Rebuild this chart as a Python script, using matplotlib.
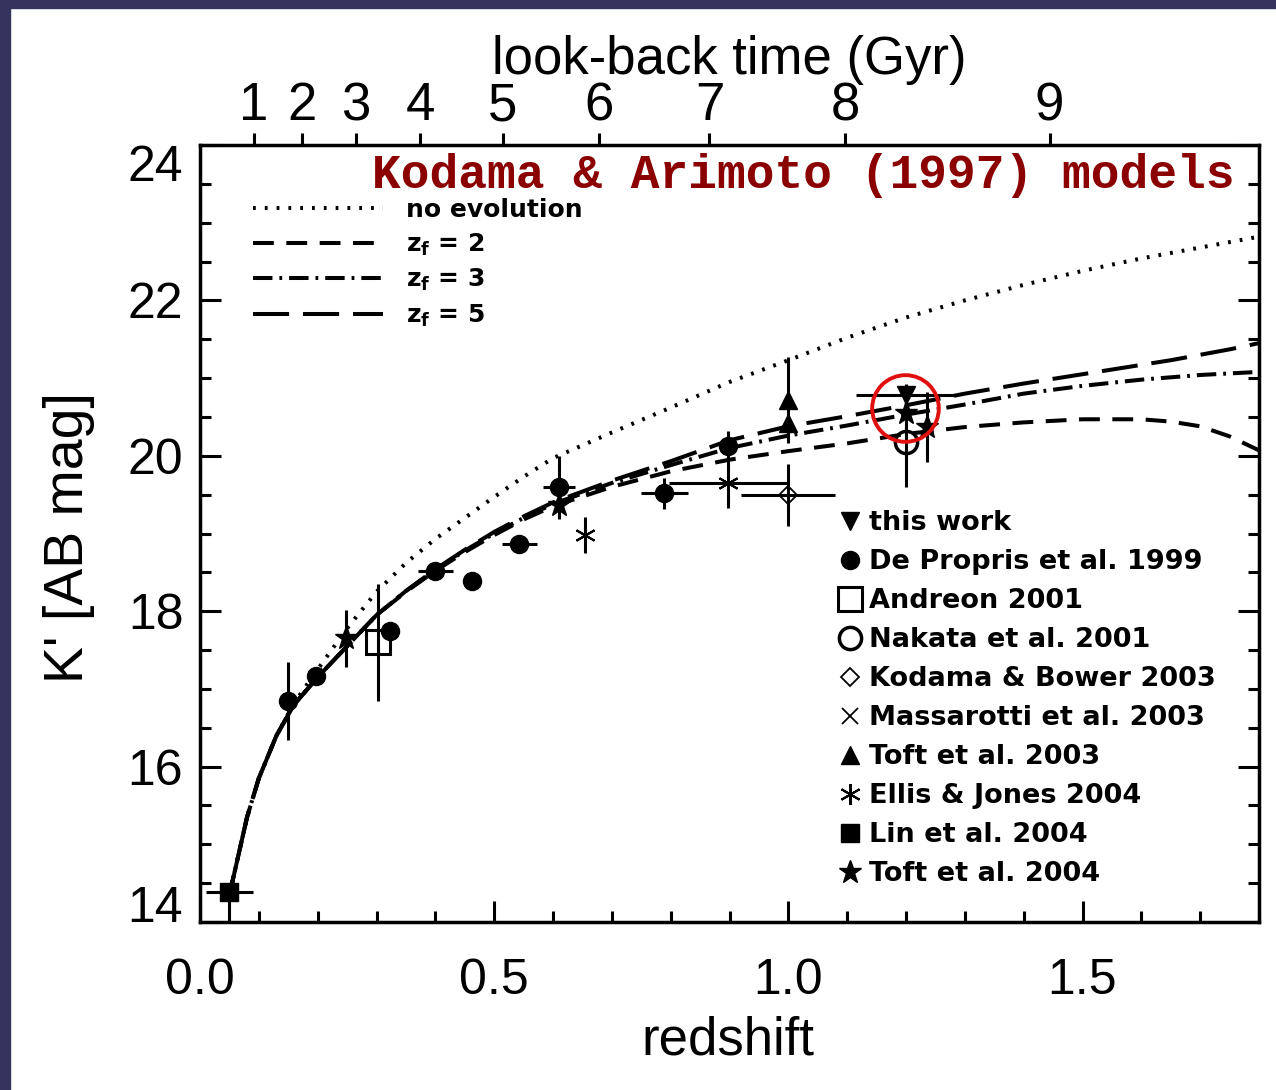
import numpy as np
import matplotlib
matplotlib.use('Agg')
import matplotlib.pyplot as plt
from matplotlib.lines import Line2D
from matplotlib.patches import Rectangle

plt.rcParams['lines.scale_dashes'] = False

# model curves (Kodama & Arimoto 1997)
z_model = [0.05, 0.08, 0.10, 0.13, 0.16, 0.20, 0.25, 0.30, 0.35, 0.40, 0.45, 0.50,
           0.55, 0.60, 0.70, 0.80, 0.90, 1.00, 1.10, 1.20, 1.30, 1.40, 1.50, 1.60,
           1.65, 1.70, 1.75, 1.80]
k_noevol = [14.35, 15.35, 15.85, 16.40, 16.82, 17.25, 17.78, 18.25, 18.62, 18.93, 19.20, 19.47,
            19.73, 19.97, 20.30, 20.62, 20.95, 21.23, 21.52, 21.78, 22.00, 22.20, 22.38, 22.54,
            22.61, 22.68, 22.75, 22.82]
k_zf2 = [14.35, 15.35, 15.85, 16.40, 16.80, 17.15, 17.55, 17.95, 18.25, 18.52, 18.76, 18.98,
         19.18, 19.35, 19.60, 19.80, 19.95, 20.06, 20.16, 20.28, 20.37, 20.43, 20.47, 20.47,
         20.44, 20.38, 20.25, 20.07]
k_zf3 = [14.35, 15.35, 15.85, 16.40, 16.80, 17.15, 17.55, 17.95, 18.26, 18.53, 18.78, 19.00,
         19.20, 19.38, 19.65, 19.88, 20.10, 20.26, 20.39, 20.53, 20.66, 20.80, 20.90, 20.98,
         21.01, 21.04, 21.06, 21.08]
k_zf5 = [14.35, 15.35, 15.85, 16.40, 16.80, 17.15, 17.55, 17.95, 18.26, 18.54, 18.79, 19.02,
         19.22, 19.40, 19.68, 19.93, 20.20, 20.38, 20.51, 20.65, 20.80, 20.93, 21.05, 21.17,
         21.23, 21.30, 21.37, 21.45]

# observations
this_z = [1.20]; this_k = [20.78]; this_zerr = [0.085]; this_kerr = [0.15]
dp_z = [0.149, 0.197, 0.323, 0.400, 0.462, 0.543, 0.610, 0.789, 0.897]
dp_k = [16.84, 17.17, 17.75, 18.52, 18.39, 18.86, 19.60, 19.52, 20.12]
dp_zerr = [0.0, 0.0, 0.0, 0.03, 0.0, 0.03, 0.027, 0.04, 0.0]
dp_kerr = [0.50, 0.08, 0.08, 0.05, 0.05, 0.10, 0.40, 0.20, 0.20]
and_z = [0.302]; and_k = [17.60]; and_kerr = [0.75]
nak_z = [1.20]; nak_k = [20.18]; nak_kerr = [0.58]
kb_z = [1.00]; kb_k = [19.50]; kb_zerr = [0.08]; kb_kerr = [0.40]
toft03_z = [1.00, 1.00]; toft03_k = [20.72, 20.42]; toft03_kerr = [0.55, 0.15]
ej_z = [0.655, 0.897]; ej_k = [18.98, 19.65]; ej_zerr = [0.0, 0.10]; ej_kerr = [0.23, 0.32]
lin_z = [0.05]; lin_k = [14.39]; lin_zerr = [0.04]; lin_kerr = [[0.45], [0.0]]
toft04_z = [0.249, 0.610, 1.200, 1.235]; toft04_k = [17.65, 19.37, 20.55, 20.37]
toft04_kerr = [0.37, 0.18, 0.20, 0.45]
circle_z = [1.199]; circle_k = [20.61]

# look-back time axis
lbt_z = [0.092, 0.173, 0.265, 0.374, 0.515, 0.679, 0.866, 1.097, 1.444]
lbt_labels = ['1', '2', '3', '4', '5', '6', '7', '8', '9']

fig = plt.figure(figsize=(12.76, 10.90), dpi=100)
fig.patches.append(Rectangle((0, 0), 10/1276, 1, transform=fig.transFigure,
                             color='#35345f', zorder=0))
fig.patches.append(Rectangle((0, 1 - 8/1090), 1, 8/1090, transform=fig.transFigure,
                             color='#35345f', zorder=0))
ax = fig.add_axes([200/1276, 168/1090, 1059/1276, 777/1090])

lw = 2.9
ax.plot(z_model, k_noevol, color='k', lw=lw, linestyle=(0, (2, 6.5)), label='no evolution')
ax.plot(z_model, k_zf2, color='k', lw=lw, linestyle=(0, (15, 9)), label='z$_\\mathregular{f}$ = 2')
ax.plot(z_model, k_zf3, color='k', lw=lw, linestyle=(0, (14, 5, 2, 5)), label='z$_\\mathregular{f}$ = 3')
ax.plot(z_model, k_zf5, color='k', lw=lw, linestyle=(0, (26, 10)), label='z$_\\mathregular{f}$ = 5')

eb = dict(ecolor='k', elinewidth=2.2, capsize=0, linestyle='none', zorder=3)
ax.errorbar(lin_z, lin_k, xerr=lin_zerr, yerr=lin_kerr, fmt='s', color='k', ms=13, **eb)
ax.errorbar(dp_z, dp_k, xerr=dp_zerr, yerr=dp_kerr, fmt='o', color='k', ms=13, **eb)
ax.errorbar(and_z, and_k, yerr=and_kerr, fmt='s', mfc='none', mec='k', mew=2.2, ms=17, **eb)
ax.errorbar(nak_z, nak_k, yerr=nak_kerr, fmt='o', mfc='none', mec='k', mew=2.5, ms=16, **eb)
ax.errorbar(kb_z, kb_k, xerr=kb_zerr, yerr=kb_kerr, fmt='D', mfc='none', mec='k', mew=1.3, ms=9, **eb)
ax.errorbar(toft03_z, toft03_k, yerr=toft03_kerr, fmt='^', color='k', ms=13, **eb)
ax.errorbar(ej_z, ej_k, xerr=ej_zerr, yerr=ej_kerr, fmt='none', **eb)
ax.plot(ej_z, ej_k, linestyle='none', marker=(6, 2, 0), color='k', mew=1.5, ms=15, zorder=4)
ax.errorbar(toft04_z, toft04_k, yerr=toft04_kerr, fmt='*', color='k', ms=17, **eb)
ax.errorbar(this_z, this_k, xerr=this_zerr, yerr=this_kerr, fmt='v', color='k', ms=13, **eb)
ax.plot(circle_z, circle_k, linestyle='none', marker='o', ms=48, mfc='none',
        mec='#e01010', mew=2.8, zorder=5)

ax.set_xlim(0, 1.8)
ax.set_ylim(14, 24)
ax.set_xticks([0.0, 0.5, 1.0, 1.5], ['0.0', '0.5', '1.0', '1.5'])
ax.set_xticks(np.arange(0, 1.81, 0.1), minor=True)
ax.set_yticks([14, 16, 18, 20, 22, 24])
ax.set_yticks(np.arange(14, 24.01, 0.5), minor=True)
for s in ax.spines.values():
    s.set_linewidth(2.5)
ax.tick_params(which='both', direction='in', top=False, right=True, width=2.2)
ax.tick_params(which='major', length=15, labelsize=36)
ax.tick_params(which='minor', length=8)
ax.tick_params(axis='x', which='major', pad=26)
ax.tick_params(axis='y', which='major', pad=12)
ylabels = ax.get_yticklabels()
for t in ax.get_xticklabels() + ylabels:
    t.set_fontfamily('Liberation Sans')
ylabels[0].set_va('baseline')
ylabels[-1].set_va('top')

ax.set_xlabel('redshift', fontsize=38, fontfamily='Liberation Sans')
ax.xaxis.set_label_coords(0.4986, -0.12)
ax.set_ylabel("K' [AB mag]", fontsize=40, fontfamily='Liberation Sans')
ax.yaxis.set_label_coords(-0.099, 0.495)

top = ax.secondary_xaxis('top')
top.set_xticks(lbt_z, lbt_labels)
top.tick_params(direction='out', length=9, width=2.2, pad=1, labelsize=38)
for t in top.get_xticklabels():
    t.set_fontfamily('Liberation Sans')
top.set_xlabel('look-back time (Gyr)', fontsize=38, fontfamily='Liberation Sans', labelpad=5)

ax.text((372-200)/1059, (922-176)/777, 'Kodama & Arimoto (1997) models', transform=ax.transAxes,
        fontsize=34.5, fontfamily='Liberation Mono', fontweight='bold', color='#8b0000',
        ha='left', va='center')

leg1 = ax.legend(loc='upper left', bbox_to_anchor=((253-200)/1059, (922-198)/777),
                 frameon=False, borderpad=0, borderaxespad=0, handlelength=5.2,
                 handletextpad=0.9, labelspacing=0.38,
                 prop={'family': 'DejaVu Sans', 'weight': 'bold', 'size': 18})
ax.add_artist(leg1)

h = [Line2D([], [], ls='none', marker='v', color='k', ms=13),
     Line2D([], [], ls='none', marker='o', color='k', ms=13),
     Line2D([], [], ls='none', marker='s', mfc='none', mec='k', mew=2.2, ms=17),
     Line2D([], [], ls='none', marker='o', mfc='none', mec='k', mew=2.5, ms=16),
     Line2D([], [], ls='none', marker='D', mfc='none', mec='k', mew=1.3, ms=9),
     Line2D([], [], ls='none', marker='x', color='k', mew=1.3, ms=12),
     Line2D([], [], ls='none', marker='^', color='k', ms=13),
     Line2D([], [], ls='none', marker=(6, 2, 0), color='k', mew=1.5, ms=15),
     Line2D([], [], ls='none', marker='s', color='k', ms=13),
     Line2D([], [], ls='none', marker='*', color='k', ms=17)]
names = ['this work', 'De Propris et al. 1999', 'Andreon 2001', 'Nakata et al. 2001',
         'Kodama & Bower 2003', 'Massarotti et al. 2003', 'Toft et al. 2003',
         'Ellis & Jones 2004', 'Lin et al. 2004', 'Toft et al. 2004']
ax.legend(h, names, loc='upper left', bbox_to_anchor=((836-200)/1059, (922-510)/777),
          frameon=False, borderpad=0, borderaxespad=0, handlelength=1.0,
          handletextpad=0.2, labelspacing=0.48, numpoints=1,
          prop={'family': 'DejaVu Sans', 'weight': 'bold', 'size': 19.5})

fig.savefig('out.png', dpi=100)
